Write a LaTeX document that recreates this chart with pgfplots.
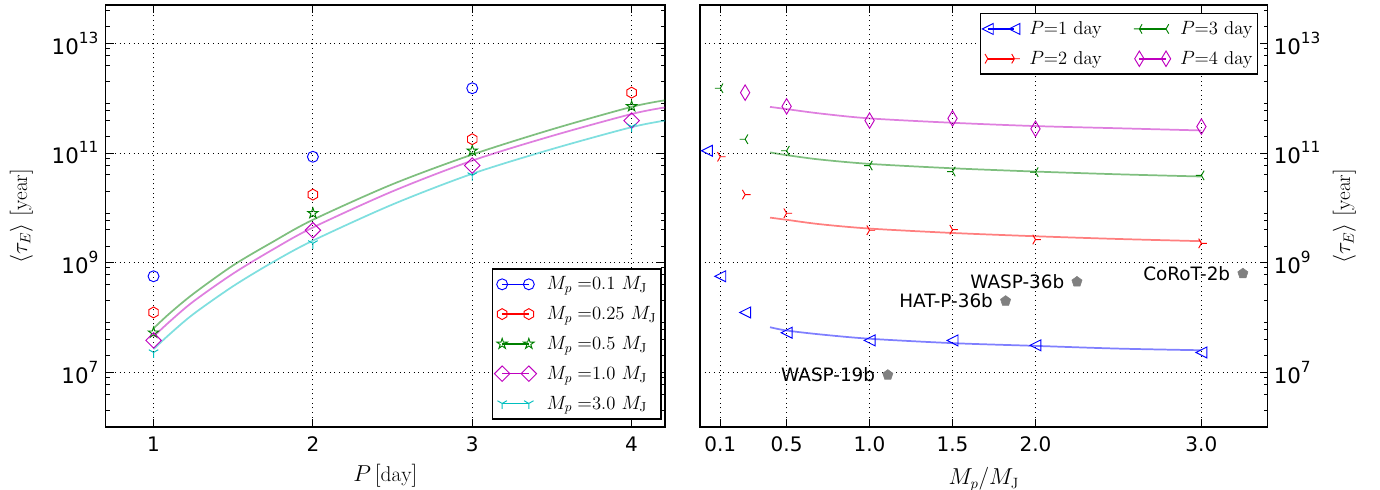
\documentclass[border=0pt]{standalone}
\usepackage{fontspec}
\usepackage{pgfplots}
\pgfplotsset{compat=1.18}
\newfontfamily\dejavu{DejaVu Sans}
\newcommand\tp[1]{10\raisebox{0.52em}{\fontsize{11.5}{11.5}\selectfont #1}}
\definecolor{mpb}{rgb}{0,0,1}
\definecolor{mpr}{rgb}{1,0,0}
\definecolor{mpg}{rgb}{0,0.5,0}
\definecolor{mpm}{rgb}{0.75,0,0.75}
\definecolor{mpc}{rgb}{0,0.75,0.75}
\definecolor{mpgray}{rgb}{0.5,0.5,0.5}
\newdimen\mkr
\newdimen\mkw
\pgfdeclareplotmark{hexa}{%
  \pgfpathmoveto{\pgfqpointpolar{90}{\pgfplotmarksize}}%
  \pgfpathlineto{\pgfqpointpolar{150}{\pgfplotmarksize}}%
  \pgfpathlineto{\pgfqpointpolar{210}{\pgfplotmarksize}}%
  \pgfpathlineto{\pgfqpointpolar{270}{\pgfplotmarksize}}%
  \pgfpathlineto{\pgfqpointpolar{330}{\pgfplotmarksize}}%
  \pgfpathlineto{\pgfqpointpolar{30}{\pgfplotmarksize}}%
  \pgfpathclose\pgfusepathqstroke}
\pgfdeclareplotmark{pstar}{%
  \mkr=0.382\pgfplotmarksize
  \pgfpathmoveto{\pgfqpointpolar{90}{\pgfplotmarksize}}%
  \pgfpathlineto{\pgfqpointpolar{126}{\mkr}}%
  \pgfpathlineto{\pgfqpointpolar{162}{\pgfplotmarksize}}%
  \pgfpathlineto{\pgfqpointpolar{198}{\mkr}}%
  \pgfpathlineto{\pgfqpointpolar{234}{\pgfplotmarksize}}%
  \pgfpathlineto{\pgfqpointpolar{270}{\mkr}}%
  \pgfpathlineto{\pgfqpointpolar{306}{\pgfplotmarksize}}%
  \pgfpathlineto{\pgfqpointpolar{342}{\mkr}}%
  \pgfpathlineto{\pgfqpointpolar{18}{\pgfplotmarksize}}%
  \pgfpathlineto{\pgfqpointpolar{54}{\mkr}}%
  \pgfpathclose\pgfusepathqstroke}
\pgfdeclareplotmark{bigdiamond}{%
  \mkr=1.414\pgfplotmarksize
  \pgfpathmoveto{\pgfqpoint{0pt}{\mkr}}%
  \pgfpathlineto{\pgfqpoint{\mkr}{0pt}}%
  \pgfpathlineto{\pgfqpoint{0pt}{-\mkr}}%
  \pgfpathlineto{\pgfqpoint{-\mkr}{0pt}}%
  \pgfpathclose\pgfusepathqstroke}
\pgfdeclareplotmark{thindiamond}{%
  \mkr=1.414\pgfplotmarksize
  \mkw=0.85\pgfplotmarksize
  \pgfpathmoveto{\pgfqpoint{0pt}{\mkr}}%
  \pgfpathlineto{\pgfqpoint{\mkw}{0pt}}%
  \pgfpathlineto{\pgfqpoint{0pt}{-\mkr}}%
  \pgfpathlineto{\pgfqpoint{-\mkw}{0pt}}%
  \pgfpathclose\pgfusepathqstroke}
\pgfdeclareplotmark{trileft}{%
  \pgfpathmoveto{\pgfqpoint{-\pgfplotmarksize}{0pt}}%
  \pgfpathlineto{\pgfqpoint{\pgfplotmarksize}{\pgfplotmarksize}}%
  \pgfpathlineto{\pgfqpoint{\pgfplotmarksize}{-\pgfplotmarksize}}%
  \pgfpathclose\pgfusepathqstroke}
\pgfdeclareplotmark{tdown}{%
  \pgfpathmoveto{\pgfqpoint{0pt}{0pt}}\pgfpathlineto{\pgfqpointpolar{270}{\pgfplotmarksize}}%
  \pgfpathmoveto{\pgfqpoint{0pt}{0pt}}\pgfpathlineto{\pgfqpointpolar{150}{\pgfplotmarksize}}%
  \pgfpathmoveto{\pgfqpoint{0pt}{0pt}}\pgfpathlineto{\pgfqpointpolar{30}{\pgfplotmarksize}}%
  \pgfusepathqstroke}
\pgfdeclareplotmark{tright}{%
  \pgfpathmoveto{\pgfqpoint{0pt}{0pt}}\pgfpathlineto{\pgfqpointpolar{0}{\pgfplotmarksize}}%
  \pgfpathmoveto{\pgfqpoint{0pt}{0pt}}\pgfpathlineto{\pgfqpointpolar{120}{\pgfplotmarksize}}%
  \pgfpathmoveto{\pgfqpoint{0pt}{0pt}}\pgfpathlineto{\pgfqpointpolar{240}{\pgfplotmarksize}}%
  \pgfusepathqstroke}
\pgfdeclareplotmark{tleft}{%
  \pgfpathmoveto{\pgfqpoint{0pt}{0pt}}\pgfpathlineto{\pgfqpointpolar{180}{\pgfplotmarksize}}%
  \pgfpathmoveto{\pgfqpoint{0pt}{0pt}}\pgfpathlineto{\pgfqpointpolar{60}{\pgfplotmarksize}}%
  \pgfpathmoveto{\pgfqpoint{0pt}{0pt}}\pgfpathlineto{\pgfqpointpolar{300}{\pgfplotmarksize}}%
  \pgfusepathqstroke}
\pgfdeclareplotmark{pent}{%
  \pgfpathmoveto{\pgfqpointpolar{90}{\pgfplotmarksize}}%
  \pgfpathlineto{\pgfqpointpolar{162}{\pgfplotmarksize}}%
  \pgfpathlineto{\pgfqpointpolar{234}{\pgfplotmarksize}}%
  \pgfpathlineto{\pgfqpointpolar{306}{\pgfplotmarksize}}%
  \pgfpathlineto{\pgfqpointpolar{18}{\pgfplotmarksize}}%
  \pgfpathclose\pgfusepathqfillstroke}
\pgfplotsset{legend image code/.code={%
      \draw[#1,line width=1.2pt] (0pt,0pt) -- (20pt,0pt);
      \draw[#1] plot coordinates {(0pt,0pt) (20pt,0pt)};}}
\tikzset{mk/.style={only marks, line width=0.7pt, mark size=4.1pt},
  fitl/.style={line width=1.3pt, opacity=0.5, smooth}}
\begin{document}
\begin{tikzpicture}
% ---------------- left panel ----------------
\begin{axis}[scale only axis, height=316.5pt,
  ymode=log, ymin=1e6, ymax=5e13,
  ytick={1e7,1e9,1e11,1e13},
  yticklabels={\tp{7},\tp{9},\tp{11},\tp{13}},
  minor ytick={2e6,4e6,6e6,8e6,2e7,4e7,6e7,8e7,2e8,4e8,6e8,8e8,2e9,4e9,6e9,8e9,2e10,4e10,6e10,8e10,2e11,4e11,6e11,8e11,2e12,4e12,6e12,8e12,2e13,4e13},
  tick align=inside,
  major tick length=6pt, minor tick length=3pt,
  every tick/.style={black, line width=0.6pt},
  axis line style={line width=1pt},
  grid=major,
  major grid style={black, line width=0.6pt, dash pattern=on 0.75pt off 2.75pt},
  xticklabel style={font=\dejavu\fontsize{15}{15}\selectfont, yshift=-4pt},
  yticklabel style={font=\dejavu\fontsize{16}{16}\selectfont, xshift=-2pt},
  label style={font=\fontsize{16}{18}\selectfont},
  legend style={draw=black, line width=1.2pt, fill=white,
      font=\fontsize{14}{17}\selectfont, row sep=7pt,
      inner xsep=1.5pt, inner ysep=4pt,
      /tikz/every odd column/.append style={column sep=5.5pt},
      cells={anchor=west}, at={(rel axis cs:0.994,0.017)}, anchor=south east},
  at={(79.3pt,46.5pt)}, anchor=south west, width=419.5pt,
  xmin=0.7, xmax=4.21, xtick={1,2,3,4}, xticklabels={1,2,3,4},
  xlabel={$P\,[\mathrm{day}]$},
  ylabel={$\langle\tau_E\rangle\;[\mathrm{year}]$},
  xlabel style={at={(rel axis cs:0.5,-0.1295)}, anchor=base},
  ylabel style={at={(rel axis cs:-0.151,0.5)}, anchor=center}]
\addplot[fitl, mpg, forget plot] coordinates {(1,6.310e7) (1.1,1.175e8) (1.25,2.692e8) (1.5,8.913e8) (1.75,2.399e9) (2,6.026e9) (2.5,2.692e10) (3,9.333e10) (3.5,2.692e11) (4,6.918e11) (4.21,9.120e11)};
\addplot[fitl, mpm, forget plot] coordinates {(1,4.467e7) (1.1,8.318e7) (1.25,1.950e8) (1.5,6.310e8) (1.75,1.738e9) (2,4.365e9) (2.5,1.995e10) (3,7.244e10) (3.5,2.042e11) (4,5.129e11) (4.21,6.761e11)};
\addplot[fitl, mpc, forget plot] coordinates {(1,2.630e7) (1.1,4.898e7) (1.25,1.148e8) (1.5,3.715e8) (1.75,1.023e9) (2,2.512e9) (2.5,1.148e10) (3,4.169e10) (3.5,1.175e11) (4,2.951e11) (4.21,3.890e11)};
\addplot[mk, mpb, mark=o] coordinates {(1,5.623e8) (2,8.511e10) (3,1.514e12)};
\addlegendentry{$M_p=$0.1 $M_\mathrm{J}$}
\addplot[mk, mpr, mark=hexa] coordinates {(1,1.230e8) (2,1.738e10) (3,1.778e11) (4,1.259e12)};
\addlegendentry{$M_p=$0.25 $M_\mathrm{J}$}
\addplot[mk, mpg, mark=pstar] coordinates {(1,5.248e7) (2,7.943e9) (3,1.096e11) (4,7.079e11)};
\addlegendentry{$M_p=$0.5 $M_\mathrm{J}$}
\addplot[mk, mpm, mark=bigdiamond] coordinates {(1,3.802e7) (2,3.890e9) (3,5.888e10) (4,3.890e11)};
\addlegendentry{$M_p=$1.0 $M_\mathrm{J}$}
\addplot[mk, mpc, mark=tdown] coordinates {(1,2.291e7) (2,2.239e9) (3,3.890e10) (4,3.020e11)};
\addlegendentry{$M_p=$3.0 $M_\mathrm{J}$}
\end{axis}
% ---------------- right panel ----------------
\begin{axis}[scale only axis, height=316.5pt,
  ymode=log, ymin=1e6, ymax=5e13,
  ytick={1e7,1e9,1e11,1e13},
  yticklabels={\tp{7},\tp{9},\tp{11},\tp{13}},
  minor ytick={2e6,4e6,6e6,8e6,2e7,4e7,6e7,8e7,2e8,4e8,6e8,8e8,2e9,4e9,6e9,8e9,2e10,4e10,6e10,8e10,2e11,4e11,6e11,8e11,2e12,4e12,6e12,8e12,2e13,4e13},
  tick align=inside,
  major tick length=6pt, minor tick length=3pt,
  every tick/.style={black, line width=0.6pt},
  axis line style={line width=1pt},
  grid=major,
  major grid style={black, line width=0.6pt, dash pattern=on 0.75pt off 2.75pt},
  xticklabel style={font=\dejavu\fontsize{15}{15}\selectfont, yshift=-4pt},
  yticklabel style={font=\dejavu\fontsize{16}{16}\selectfont, xshift=1pt},
  label style={font=\fontsize{16}{18}\selectfont},
  legend columns=2, transpose legend,
  legend style={draw=black, line width=1.2pt, fill=white,
      font=\fontsize{14}{17}\selectfont, row sep=7pt,
      inner xsep=1.5pt, inner ysep=4pt,
      cells={anchor=west}, at={(rel axis cs:0.983,0.982)}, anchor=north east,
      /tikz/every odd column/.append style={column sep=5pt},
      /tikz/every even column/.append style={column sep=22pt}},
  at={(525pt,46.5pt)}, anchor=south west, width=425.8pt,
  xmin=-0.022, xmax=3.4, xtick={0.1,0.5,1.0,1.5,2.0,3.0},
  xticklabels={0.1,0.5,1.0,1.5,2.0,3.0},
  ytick pos=right, yticklabel pos=right,
  xlabel={$M_p/M_\mathrm{J}$},
  ylabel={$\langle\tau_E\rangle\;[\mathrm{year}]$},
  xlabel style={at={(rel axis cs:0.5,-0.1374)}, anchor=base},
  ylabel style={at={(rel axis cs:1.135,0.5)}, anchor=center}]
\addplot[fitl, mpb, forget plot] coordinates {(0.4,6.607e7) (0.5,5.754e7) (0.7,4.898e7) (1.0,4.074e7) (1.5,3.388e7) (2.0,3.020e7) (2.5,2.692e7) (3.0,2.512e7)};
\addplot[fitl, mpr, forget plot] coordinates {(0.4,6.607e9) (0.5,6.026e9) (0.7,5.012e9) (1.0,4.169e9) (1.5,3.467e9) (2.0,3.020e9) (2.5,2.692e9) (3.0,2.455e9)};
\addplot[fitl, mpg, forget plot] coordinates {(0.4,1.023e11) (0.5,9.120e10) (0.7,7.586e10) (1.0,6.310e10) (1.5,5.248e10) (2.0,4.571e10) (2.5,4.074e10) (3.0,3.715e10)};
\addplot[fitl, mpm, forget plot] coordinates {(0.4,6.918e11) (0.5,6.310e11) (0.7,5.248e11) (1.0,4.266e11) (1.5,3.548e11) (2.0,3.090e11) (2.5,2.818e11) (3.0,2.570e11)};
\addplot[mk, mpb, mark=trileft] coordinates {(0.02,1.096e11) (0.1,5.623e8) (0.25,1.230e8) (0.5,5.248e7) (1.0,3.802e7) (1.5,3.802e7) (2.0,3.090e7) (3.0,2.291e7)};
\addlegendentry{$P$=1 day}
\addplot[mk, mpr, mark=tright] coordinates {(0.1,8.511e10) (0.25,1.738e10) (0.5,7.943e9) (1.0,3.890e9) (1.5,3.981e9) (2.0,2.630e9) (3.0,2.239e9)};
\addlegendentry{$P$=2 day}
\addplot[mk, mpg, mark=tleft] coordinates {(0.1,1.514e12) (0.25,1.778e11) (0.5,1.096e11) (1.0,5.888e10) (1.5,4.571e10) (2.0,4.467e10) (3.0,3.890e10)};
\addlegendentry{$P$=3 day}
\addplot[mk, mpm, mark=thindiamond] coordinates {(0.25,1.259e12) (0.5,7.079e11) (1.0,3.890e11) (1.5,4.266e11) (2.0,2.754e11) (3.0,3.020e11)};
\addlegendentry{$P$=4 day}
\addplot[forget plot, only marks, mark=pent, mark size=4pt, color=mpgray, fill=mpgray,
  nodes near coords, point meta=explicit symbolic,
  every node near coord/.append style={anchor=east, xshift=-6pt, yshift=0pt,
    font=\dejavu\fontsize{13.8}{14}\selectfont, text=black}]
  table[meta=label] {
x y label
1.11 8.913e6 WASP-19b
1.82 1.995e8 HAT-P-36b
2.25 4.467e8 WASP-36b
3.25 6.310e8 CoRoT-2b
};
\end{axis}
\pgfresetboundingbox
\useasboundingbox (0pt,0pt) rectangle (1035pt,366.75pt);
\end{tikzpicture}
\end{document}
